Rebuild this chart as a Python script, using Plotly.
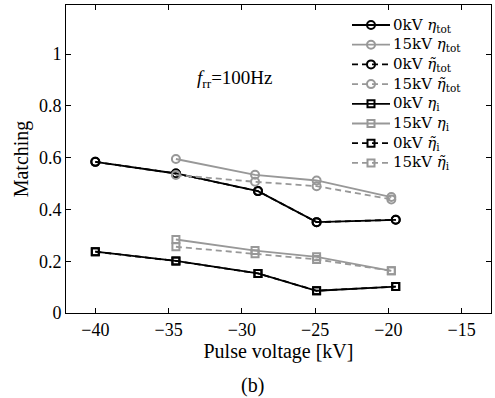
import plotly.graph_objects as go

# Pulse voltage [kV] for each measurement series
v_0kv = [-40, -34.5, -28.9, -24.9, -19.5]
v_15kv = [-34.5, -29.1, -24.9, -19.8]

# Matching efficiencies
eta_tot_0kv = [0.584, 0.539, 0.471, 0.351, 0.360]
eta_tot_15kv = [0.595, 0.534, 0.512, 0.448]
eta_tot_t_0kv = [0.584, 0.539, 0.471, 0.351, 0.360]
eta_tot_t_15kv = [0.533, 0.507, 0.490, 0.439]
eta_i_0kv = [0.237, 0.201, 0.153, 0.086, 0.102]
eta_i_15kv = [0.284, 0.241, 0.217, 0.163]
eta_i_t_0kv = [0.237, 0.201, 0.153, 0.086, 0.102]
eta_i_t_15kv = [0.256, 0.229, 0.207, 0.163]

x_ticks = [-40, -35, -30, -25, -20, -15]
y_ticks = [0, 0.2, 0.4, 0.6, 0.8, 1]

BLACK = "#000000"
GRAY = "#989898"
FONT = "Liberation Serif"
KEY_FONT = "DejaVu Serif"
DASH = "6px,4px"

series = [
    (v_0kv, eta_tot_0kv, "0kV <i>η</i><sub>tot</sub>", BLACK, "solid", "circle-open"),
    (v_15kv, eta_tot_15kv, "15kV <i>η</i><sub>tot</sub>", GRAY, "solid", "circle-open"),
    (v_0kv, eta_tot_t_0kv, "0kV <i>η̃</i><sub>tot</sub>", BLACK, DASH, "circle-open"),
    (v_15kv, eta_tot_t_15kv, "15kV <i>η̃</i><sub>tot</sub>", GRAY, DASH, "circle-open"),
    (v_0kv, eta_i_0kv, "0kV <i>η</i><sub>i</sub>", BLACK, "solid", "square-open"),
    (v_15kv, eta_i_15kv, "15kV <i>η</i><sub>i</sub>", GRAY, "solid", "square-open"),
    (v_0kv, eta_i_t_0kv, "0kV <i>η̃</i><sub>i</sub>", BLACK, DASH, "square-open"),
    (v_15kv, eta_i_t_15kv, "15kV <i>η̃</i><sub>i</sub>", GRAY, DASH, "square-open"),
]


def marker_size(symbol):
    return 8 if symbol.startswith("circle") else 7


fig = go.Figure()
for xs, ys, name, color, dash, symbol in series:
    fig.add_trace(go.Scatter(
        x=xs, y=ys, name=name, mode="lines+markers", showlegend=False,
        line=dict(color=color, width=1.8, dash=dash),
        marker=dict(symbol=symbol, size=marker_size(symbol),
                    color=color, line=dict(width=2, color=color)),
    ))

# Compact key in the top-right corner, drawn on a hidden pixel-scaled overlay axis
PLOT_W, PLOT_H = 425, 308
KEY_X0, KEY_X1, KEY_TEXT = 286, 324, 326
KEY_TOP, KEY_STEP = 20, 19.7
for k, (_, _, name, color, dash, symbol) in enumerate(series):
    row_y = KEY_TOP + k * KEY_STEP
    fig.add_trace(go.Scatter(
        x=[KEY_X0, (KEY_X0 + KEY_X1) / 2, KEY_X1], y=[row_y] * 3,
        xaxis="x2", yaxis="y2", mode="lines+markers", showlegend=False,
        hoverinfo="skip",
        line=dict(color=color, width=1.8, dash=dash),
        marker=dict(symbol=symbol, size=marker_size(symbol), color=color,
                    opacity=[0, 1, 0], line=dict(width=2, color=color)),
    ))
    fig.add_annotation(x=KEY_TEXT, y=row_y, xref="x2", yref="y2",
                       xanchor="left", yanchor="middle", text=name,
                       showarrow=False, borderpad=0,
                       font=dict(family=KEY_FONT, size=15, color="black"))

axis_common = dict(
    showline=True, linecolor="black", linewidth=1, mirror="ticks",
    ticks="inside", ticklen=5, tickcolor="black", tickwidth=1,
    showgrid=False, zeroline=False,
    tickfont=dict(family=FONT, size=18, color="black"),
)

fig.update_xaxes(range=[-42, -13], tickvals=x_ticks,
                 ticktext=[f"−{abs(t)}" for t in x_ticks],
                 title=dict(text="Pulse voltage [kV]", standoff=0,
                            font=dict(family=FONT, size=20, color="black")),
                 **axis_common)
fig.update_yaxes(range=[0, 1.19], tickvals=y_ticks,
                 ticktext=["0", "0.2", "0.4", "0.6", "0.8", "1"],
                 title=dict(text="Matching", standoff=4,
                            font=dict(family=FONT, size=20, color="black")),
                 **axis_common)

fig.add_annotation(x=-30.5, y=0.905, xref="x", yref="y",
                   text="<i>f</i><sub>rr</sub>=100Hz", showarrow=False,
                   font=dict(family=FONT, size=19, color="black"))
fig.add_annotation(x=0.438, y=-0.235, xref="paper", yref="paper",
                   xanchor="center", yanchor="middle",
                   text="(b)", showarrow=False,
                   font=dict(family=FONT, size=20, color="black"))

fig.update_layout(
    width=495, height=398,
    margin=dict(l=66, r=4, t=5, b=85),
    paper_bgcolor="white", plot_bgcolor="white",
    font=dict(family=FONT, size=18, color="black"),
    xaxis2=dict(overlaying="x", range=[0, PLOT_W], visible=False,
                fixedrange=True),
    yaxis2=dict(overlaying="y", range=[PLOT_H, 0], visible=False,
                fixedrange=True),
    showlegend=False,
)

fig.write_html("out.html")
